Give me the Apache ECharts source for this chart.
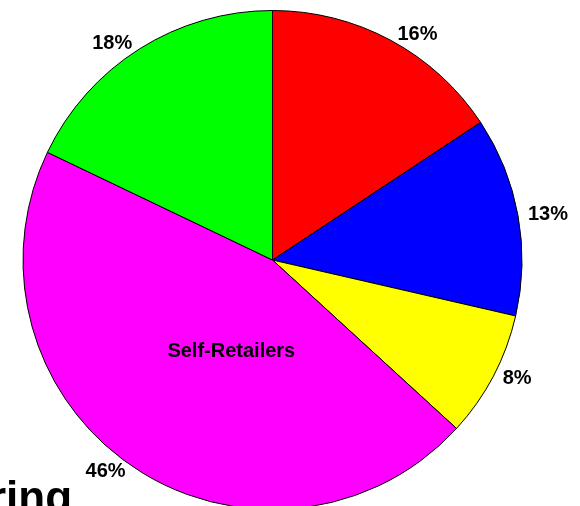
<!DOCTYPE html>
<html>
<head>
<meta charset="utf-8">
<script src="https://cdn.jsdelivr.net/npm/echarts@6/dist/echarts.min.js"></script>
<style>
  html, body { margin: 0; padding: 0; background: #ffffff; }
  #chart { width: 580px; height: 506px; }
</style>
</head>
<body>
<div id="chart"></div>
<script>
// Slice values (clockwise from 12 o'clock)
var sliceValues = [15.7, 12.9, 8.2, 45.3, 17.9];
var sliceColors = ['#FF0000', '#0000FF', '#FFFF00', '#FF00FF', '#00FF00'];
var percentLabels = ['16%', '13%', '8%', '46%', '18%'];
var innerLabels = ['', '', '', 'Self-Retailers', ''];
var titleText = 'ring';

var chart = echarts.init(document.getElementById('chart'), null, { renderer: 'canvas' });

var mainData = sliceValues.map(function (v, i) {
  return { value: v, name: 'slice' + i, itemStyle: { color: sliceColors[i] } };
});
var overlayData = sliceValues.map(function (v, i) {
  return { value: v, name: 'inner' + i };
});

var font = '"Liberation Sans", Arial, Helvetica, sans-serif';

chart.setOption({
  animation: false,
  backgroundColor: '#ffffff',
  title: {
    text: titleText,
    left: -11,
    top: 478,
    padding: 0,
    textStyle: { fontFamily: font, fontWeight: 'bold', fontSize: 44, color: '#000000' }
  },
  series: [
    {
      type: 'pie',
      center: [272.5, 260],
      radius: [0, 249.5],
      startAngle: 90,
      clockwise: true,
      avoidLabelOverlap: false,
      silent: true,
      data: mainData,
      itemStyle: { borderColor: '#000000', borderWidth: 1 },
      label: {
        show: true,
        position: 'outside',
        alignTo: 'none',
        bleedMargin: 0,
        overflow: 'none',
        distanceToLabelLine: 4,
        formatter: function (p) { return percentLabels[p.dataIndex]; },
        fontFamily: font,
        fontWeight: 'bold',
        fontSize: 20,
        color: '#000000'
      },
      labelLine: { show: false, length: 6, length2: 0 },
      emphasis: { disabled: true }
    },
    {
      type: 'pie',
      center: [272.5, 260],
      radius: [0, 202],
      startAngle: 90,
      clockwise: true,
      avoidLabelOverlap: false,
      silent: true,
      data: overlayData,
      itemStyle: { color: 'rgba(0,0,0,0)', borderWidth: 0 },
      label: {
        show: true,
        position: 'inside',
        offset: [17, 5],
        formatter: function (p) { return innerLabels[p.dataIndex]; },
        fontFamily: font,
        fontWeight: 'bold',
        fontSize: 20,
        color: '#000000'
      },
      labelLine: { show: false },
      emphasis: { disabled: true }
    }
  ]
});
</script>
</body>
</html>
